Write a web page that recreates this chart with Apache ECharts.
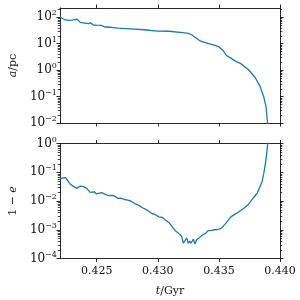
<!DOCTYPE html>
<html><head><meta charset="utf-8">
<script src="https://cdn.jsdelivr.net/npm/echarts@6/dist/echarts.min.js"></script>
<style>html,body{margin:0;padding:0;background:#fff}#c{width:300px;height:300px}</style>
</head><body><div id="c"></div>
<script>
// time (Gyr) and semi-major axis a (pc)
const tA = [0.42200,0.42215,0.42240,0.42272,0.42300,0.42339,0.42353,0.42366,0.42380,0.42433,0.42450,0.42460,0.42473,0.42500,0.42540,0.42567,0.42620,0.42674,0.42779,0.42889,0.42996,0.43092,0.43221,0.43250,0.43277,0.43310,0.43341,0.43381,0.43440,0.43494,0.43534,0.43560,0.43598,0.43640,0.43679,0.43743,0.43799,0.43839,0.43866,0.43885,0.43898,0.43904];
const aPc = [100,93,79,74,76,83,93,63,59,56,60,65,50,49,48,42,41,38,35.5,33,29.5,29,25,24,21.4,16.6,12.9,11,9.3,7.8,5.5,3.6,2.8,2.1,1.74,1.02,0.50,0.23,0.10,0.043,0.0105,0.003];
// time (Gyr) and 1 - e
const tE = [0.42200,0.42220,0.42246,0.42260,0.42272,0.42286,0.42299,0.42313,0.42339,0.42353,0.42366,0.42379,0.42393,0.42419,0.42447,0.42460,0.42481,0.42497,0.42513,0.42540,0.42567,0.42594,0.42607,0.42626,0.42648,0.42674,0.42698,0.42722,0.42754,0.42779,0.42808,0.42827,0.42849,0.42861,0.42883,0.42902,0.42929,0.42955,0.42979,0.43009,0.43036,0.43062,0.43090,0.43104,0.43116,0.43130,0.43143,0.43156,0.43170,0.43183,0.43196,0.43210,0.43223,0.43237,0.43250,0.43261,0.43272,0.43291,0.43304,0.43317,0.43331,0.43344,0.43357,0.43371,0.43384,0.43398,0.43411,0.43424,0.43438,0.43451,0.43464,0.43478,0.43491,0.43504,0.43518,0.43532,0.43558,0.43582,0.43598,0.43623,0.43652,0.43679,0.43705,0.43735,0.43759,0.43783,0.43813,0.43831,0.43853,0.43867,0.43879,0.43890,0.43898,0.43904];
const oneMinusE = [0.0575,0.063,0.0646,0.0537,0.0468,0.038,0.0363,0.0316,0.0275,0.024,0.0331,0.0339,0.0316,0.0275,0.02,0.0186,0.0209,0.0178,0.0186,0.0195,0.0174,0.0155,0.0141,0.0158,0.0148,0.0123,0.0126,0.0115,0.0107,0.0100,0.0083,0.0076,0.0069,0.006,0.0056,0.0051,0.0043,0.0036,0.0034,0.0028,0.0027,0.0022,0.0018,0.0016,0.0013,0.00126,0.00093,0.001,0.00076,0.00087,0.00058,0.00034,0.0003,0.00052,0.00034,0.0004,0.00034,0.00047,0.00032,0.00044,0.0005,0.00055,0.0006,0.00068,0.00076,0.00079,0.00093,0.00089,0.00095,0.00091,0.001,0.00093,0.00102,0.001,0.00112,0.0013,0.0017,0.0023,0.0028,0.0033,0.0039,0.0047,0.0056,0.0072,0.0095,0.013,0.0186,0.028,0.047,0.089,0.178,0.40,0.89,2.0];
const xTicks = [0.425, 0.430, 0.435, 0.440];
const xTickLabels = ['0.425', '0.430', '0.435', '0.440'];
const topDecades = [-2, -1, 0, 1, 2];
const bottomDecades = [-4, -3, -2, -1, 0];

const X_MIN = 0.422, X_MAX = 0.440;
const FONT = 'DejaVu Serif';
const INK = '#111';
const lineSt = {color: INK, width: 0.9};

function minorTicks(decades, max) {
  const out = [];
  decades.forEach(d => { for (let k = 2; k <= 9; k++) { const v = d + Math.log10(k); if (v <= max) out.push(v); } });
  return out;
}
function expLabel(v) {
  const n = Math.round(v);
  return '{b|10}{s|' + (n < 0 ? '\u2212' + (-n) : n) + '}';
}
function yAxesFor(grid, min, max, decades, name) {
  const base = {type: 'value', gridIndex: grid, min: min, max: max, splitLine: {show: false}};
  return [
    Object.assign({}, base, {position: 'left',
      axisLine: {show: true, onZero: false, lineStyle: lineSt},
      axisTick: {show: true, length: 3.5, customValues: decades, lineStyle: lineSt},
      axisLabel: {show: true, customValues: decades, margin: 3, formatter: expLabel, color: INK,
        rich: {b: {fontFamily: FONT, fontSize: 12, color: INK},
               s: {fontFamily: FONT, fontSize: 8, color: INK, padding: [0, 0, 8, 0]}}},
      name: name, nameLocation: 'middle', nameGap: 39,
      nameTextStyle: {fontFamily: FONT, fontSize: 11, color: INK,
        rich: {i: {fontFamily: FONT, fontStyle: 'italic', fontSize: 11, color: INK}}}}),
    Object.assign({}, base, {position: 'right', axisLine: {show: true, onZero: false, lineStyle: lineSt},
      axisTick: {show: true, length: 3.5, customValues: decades, lineStyle: lineSt}, axisLabel: {show: false}})
  ];
}
function xAxesFor(grid, withLabels) {
  const base = {type: 'value', gridIndex: grid, min: X_MIN, max: X_MAX, splitLine: {show: false},
    axisLine: {show: true, onZero: false, lineStyle: lineSt}};
  const bottom = Object.assign({}, base, {position: 'bottom',
    axisTick: {show: true, length: 3.5, customValues: xTicks, lineStyle: lineSt},
    axisLabel: {show: withLabels, customValues: xTicks, margin: 7, fontFamily: FONT, fontSize: 11, color: INK,
      formatter: v => xTickLabels[xTicks.findIndex(x => Math.abs(x - v) < 1e-6)]}});
  if (withLabels) {
    bottom.name = '{i|t}/Gyr';
    bottom.nameLocation = 'middle';
    bottom.nameGap = 27;
    bottom.nameTextStyle = {fontFamily: FONT, fontSize: 11, color: INK,
      rich: {i: {fontFamily: FONT, fontStyle: 'italic', fontSize: 11, color: INK}}};
  }
  const top = Object.assign({}, base, {position: 'top',
    axisTick: {show: true, length: 3.5, customValues: xTicks, lineStyle: lineSt}, axisLabel: {show: false}});
  return [bottom, top];
}
// minor log ticks on both vertical spines, placed through the axis scales
function minorTickSeries(xIdx, yIdx, decades, max) {
  return {
    type: 'custom', xAxisIndex: xIdx, yAxisIndex: yIdx, silent: true, clip: false, z: 5,
    data: minorTicks(decades, max).map(v => [X_MIN, v]),
    renderItem: function (params, api) {
      const p = api.coord([X_MIN, api.value(1)]);
      const q = api.coord([X_MAX, api.value(1)]);
      const y = Math.round(p[1]) + 0.5;
      const st = {stroke: INK, lineWidth: 0.8};
      return {type: 'group', children: [
        {type: 'line', shape: {x1: p[0] - 2.2, y1: y, x2: p[0], y2: y}, style: st},
        {type: 'line', shape: {x1: q[0], y1: y, x2: q[0] + 2.2, y2: y}, style: st}
      ]};
    }
  };
}

const chart = echarts.init(document.getElementById('c'), null, {renderer: 'canvas'});
chart.setOption({
  animation: false,
  backgroundColor: '#fff',
  grid: [
    {left: 56, right: 20, top: 8, height: 115},
    {left: 56, right: 20, top: 143.5, height: 115}
  ],
  xAxis: [].concat(xAxesFor(0, false), xAxesFor(1, true)),
  yAxis: [].concat(yAxesFor(0, -2, 2.34, topDecades, '{i|a}/pc'), yAxesFor(1, -4, 0, bottomDecades, '1 \u2212 {i|e}')),
  series: [
    {type: 'line', xAxisIndex: 0, yAxisIndex: 0, showSymbol: false, clip: true,
      lineStyle: {color: '#1f77b4', width: 1.3}, itemStyle: {color: '#1f77b4'},
      data: tA.map((t, i) => [t, Math.log10(aPc[i])])},
    {type: 'line', xAxisIndex: 2, yAxisIndex: 2, showSymbol: false, clip: true,
      lineStyle: {color: '#1f77b4', width: 1.3}, itemStyle: {color: '#1f77b4'},
      data: tE.map((t, i) => [t, Math.log10(oneMinusE[i])])},
    minorTickSeries(0, 0, topDecades, 2.34),
    minorTickSeries(2, 2, bottomDecades, 0)
  ]
});
</script></body></html>
